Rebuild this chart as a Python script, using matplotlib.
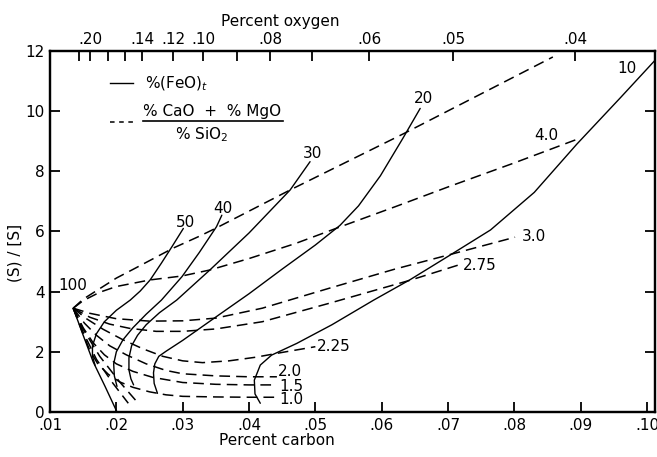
import matplotlib
matplotlib.use("Agg")
import matplotlib.pyplot as plt

# --- curves: percent carbon vs (S)/[S] ---
# solid lines, constant %(FeO)t
feo_100_c = [0.0135, 0.0150, 0.0165, 0.0183, 0.0201]
feo_100_s = [3.45, 2.55, 1.67, 0.85, 0.0]

feo_50_c = [0.0168, 0.0164, 0.0164, 0.0170, 0.0182, 0.0200, 0.0221, 0.0236, 0.0251, 0.0268, 0.0284, 0.0301]
feo_50_s = [1.55, 1.85, 2.2, 2.6, 3.0, 3.38, 3.72, 4.02, 4.39, 4.95, 5.5, 6.1]

feo_40_c = [0.0201, 0.0197, 0.0196, 0.0200, 0.0210, 0.0225, 0.0245, 0.0268, 0.0299, 0.0325, 0.0351, 0.0359]
feo_40_s = [0.85, 1.2, 1.6, 2.0, 2.4, 2.8, 3.25, 3.72, 4.5, 5.3, 6.16, 6.54]

feo_30_c = [0.0226, 0.0222, 0.0219, 0.0219, 0.0223, 0.0232, 0.0245, 0.0265, 0.0291, 0.0341, 0.0400, 0.0462, 0.0492]
feo_30_s = [0.9, 1.1, 1.4, 1.8, 2.2, 2.55, 2.9, 3.3, 3.72, 4.72, 5.95, 7.38, 8.32]

feo_20_c = [0.0262, 0.0257, 0.0256, 0.0258, 0.0264, 0.0275, 0.0300, 0.0356, 0.0400, 0.0450,
            0.0500, 0.0537, 0.0565, 0.0598, 0.0632, 0.0658]
feo_20_s = [0.62, 0.95, 1.3, 1.6, 1.85, 2.02, 2.38, 3.25, 3.93, 4.75, 5.55, 6.2, 6.85, 7.85, 9.1, 10.09]

feo_10_c = [0.0417, 0.0409, 0.0408, 0.0417, 0.0434, 0.0472, 0.0525, 0.0588, 0.0643, 0.0702,
            0.0764, 0.0830, 0.0894, 0.0960, 0.1012]
feo_10_s = [0.29, 0.6, 1.06, 1.56, 1.89, 2.28, 2.9, 3.72, 4.4, 5.2, 6.05, 7.3, 8.9, 10.45, 11.69]

# dashed lines, constant (%CaO + %MgO)/%SiO2
bas_top_c = [0.0135, 0.0150, 0.0175, 0.0200, 0.0226, 0.0286, 0.0326, 0.0351, 0.0462, 0.0633, 0.0858]
bas_top_s = [3.45, 3.75, 4.1, 4.45, 4.75, 5.45, 5.85, 6.12, 7.38, 9.25, 11.8]

bas_40_c = [0.0135, 0.0150, 0.0175, 0.0200, 0.0251, 0.0299, 0.0341, 0.0400, 0.0470, 0.0537, 0.0620, 0.0700, 0.0800, 0.0894]
bas_40_s = [3.45, 3.7, 3.98, 4.17, 4.39, 4.52, 4.72, 5.1, 5.6, 6.15, 6.82, 7.48, 8.28, 9.06]

bas_30_c = [0.0135, 0.0160, 0.0200, 0.0250, 0.0300, 0.0350, 0.0420, 0.0522, 0.0620, 0.0711, 0.0801]
bas_30_s = [3.45, 3.28, 3.1, 3.02, 3.03, 3.12, 3.45, 4.12, 4.75, 5.28, 5.81]

bas_275_c = [0.0135, 0.0160, 0.0190, 0.0220, 0.0260, 0.0300, 0.0350, 0.0420, 0.0522, 0.0643, 0.0715]
bas_275_s = [3.45, 3.15, 2.92, 2.78, 2.68, 2.68, 2.76, 3.0, 3.62, 4.38, 4.88]

bas_225_c = [0.0135, 0.0155, 0.0180, 0.0210, 0.0240, 0.0270, 0.0300, 0.0330, 0.0370, 0.0410, 0.0450, 0.0500]
bas_225_s = [3.45, 3.1, 2.75, 2.4, 2.1, 1.85, 1.7, 1.64, 1.7, 1.82, 1.98, 2.17]

bas_20_c = [0.0135, 0.0152, 0.0170, 0.0190, 0.0215, 0.0245, 0.0275, 0.0300, 0.0350, 0.0400, 0.0442]
bas_20_s = [3.45, 2.95, 2.55, 2.2, 1.9, 1.6, 1.38, 1.27, 1.2, 1.17, 1.17]

bas_15_c = [0.0135, 0.0150, 0.0165, 0.0182, 0.0200, 0.0225, 0.0255, 0.0300, 0.0350, 0.0400, 0.0442]
bas_15_s = [3.45, 2.8, 2.3, 1.9, 1.6, 1.35, 1.15, 0.98, 0.92, 0.9, 0.9]

bas_10_c = [0.0135, 0.0148, 0.0160, 0.0172, 0.0188, 0.0205, 0.0225, 0.0250, 0.0275, 0.0300, 0.0350, 0.0400, 0.0442]
bas_10_s = [3.45, 2.7, 2.05, 1.6, 1.25, 1.0, 0.82, 0.67, 0.57, 0.52, 0.5, 0.49, 0.49]

bas_low1_c = [0.0135, 0.0150, 0.0170, 0.0195, 0.0218]
bas_low1_s = [3.45, 2.65, 1.75, 0.95, 0.29]
bas_low2_c = [0.0135, 0.0150, 0.0175, 0.0205, 0.0233]
bas_low2_s = [3.45, 2.75, 1.85, 1.0, 0.29]

# curve labels: text, carbon, (S)/[S]
feo_labels = ["10", "20", "30", "40", "50", "100"]
feo_label_c = [0.0970, 0.0663, 0.0495, 0.0361, 0.0305, 0.0135]
feo_label_s = [11.42, 10.42, 8.6, 6.78, 6.29, 4.22]

bas_labels = ["4.0", "3.0", "2.75", "2.25", "2.0", "1.5", "1.0"]
bas_label_c = [0.0848, 0.0811, 0.0722, 0.0503, 0.0443, 0.0446, 0.0446]
bas_label_s = [9.2, 5.82, 4.88, 2.17, 1.34, 0.86, 0.4]

# axes ticks
carbon_ticks = [0.01, 0.02, 0.03, 0.04, 0.05, 0.06, 0.07, 0.08, 0.09, 0.10]
carbon_labels = [".01", ".02", ".03", ".04", ".05", ".06", ".07", ".08", ".09", ".10"]
oxygen_pos = [0.01442, 0.01603, 0.01875, 0.02131, 0.02388, 0.02855, 0.03308, 0.03820, 0.04318, 0.04952, 0.05811, 0.07078, 0.08918]
oxygen_labels = ["", ".20", "", "", ".14", ".12", ".10", "", ".08", "", ".06", ".05", ".04"]
ratio_ticks = [0, 2, 4, 6, 8, 10, 12]

solid = [(feo_100_c, feo_100_s), (feo_50_c, feo_50_s), (feo_40_c, feo_40_s),
         (feo_30_c, feo_30_s), (feo_20_c, feo_20_s), (feo_10_c, feo_10_s)]
dashed = [(bas_top_c, bas_top_s), (bas_40_c, bas_40_s), (bas_30_c, bas_30_s),
          (bas_275_c, bas_275_s), (bas_225_c, bas_225_s), (bas_20_c, bas_20_s),
          (bas_15_c, bas_15_s), (bas_10_c, bas_10_s), (bas_low1_c, bas_low1_s),
          (bas_low2_c, bas_low2_s)]

FS = 11
plt.rcParams["font.family"] = ["DejaVu Sans"]
fig = plt.figure(figsize=(6.57, 4.57), dpi=100)
ax = fig.add_axes([0.0761, 0.0985, 0.9209, 0.790])

for c, s in solid:
    ax.plot(c, s, color="black", lw=1.0, solid_capstyle="round")
for c, s in dashed:
    ax.plot(c, s, color="black", lw=1.1, dashes=(7, 4))

for t, c, s in zip(feo_labels, feo_label_c, feo_label_s):
    ax.text(c, s, t, fontsize=FS, ha="center", va="center")
for t, c, s in zip(bas_labels, bas_label_c, bas_label_s):
    ax.text(c, s, t, fontsize=FS, ha="left" if t != "4.0" else "center", va="center")

ax.set_xlim(0.01, 0.1012)
ax.set_ylim(0, 12)
ax.set_xticks(carbon_ticks)
ax.set_xticklabels(carbon_labels)
ax.set_yticks(ratio_ticks)
ax.tick_params(direction="in", length=7, width=1.3, labelsize=FS, right=True, pad=4)
for sp in ax.spines.values():
    sp.set_linewidth(1.6)

ax.set_xlabel("Percent carbon", fontsize=FS)
ax.xaxis.set_label_coords(0.375, -0.058)
ax.set_ylabel("(S) / [S]", fontsize=FS)
ax.yaxis.set_label_coords(-0.045, 0.44)

top = ax.twiny()
top.set_xlim(ax.get_xlim())
top.set_xticks(oxygen_pos)
top.set_xticklabels(oxygen_labels)
top.tick_params(direction="in", length=7, width=1.3, labelsize=FS, pad=3)
top.set_xlabel("Percent oxygen", fontsize=FS)
top.xaxis.set_label_coords(0.38, 1.07)
for sp in top.spines.values():
    sp.set_linewidth(1.6)

# key
ax.plot([0.099, 0.137], [0.911, 0.911], transform=ax.transAxes, color="black", lw=1.0)
ax.text(0.157, 0.908, "%(FeO)$_t$", transform=ax.transAxes, fontsize=FS, va="center")
ax.plot([0.099, 0.137], [0.803, 0.803], transform=ax.transAxes, color="black", lw=1.1, dashes=(3, 3))
ax.text(0.268, 0.833, "% CaO  +  % MgO", transform=ax.transAxes, fontsize=FS, ha="center", va="center")
ax.plot([0.154, 0.385], [0.805, 0.805], transform=ax.transAxes, color="black", lw=1.2)
ax.text(0.25, 0.768, "% SiO$_2$", transform=ax.transAxes, fontsize=FS, ha="center", va="center")

fig.savefig("out.png", dpi=100)
